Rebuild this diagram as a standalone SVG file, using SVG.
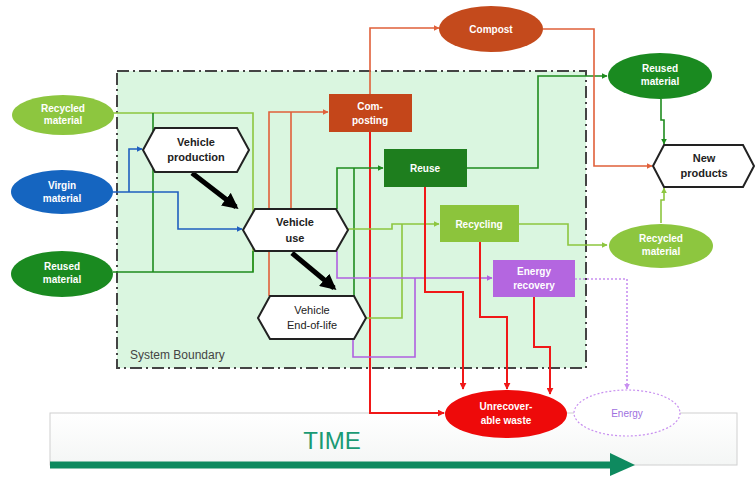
<svg xmlns="http://www.w3.org/2000/svg" width="755" height="477" viewBox="0 0 755 477">
<style>
text{font-family:"Liberation Sans",Arial,sans-serif;text-anchor:middle}
.w{fill:#ffffff;font-size:10px;font-weight:bold}
.k{fill:#222;font-size:11px;font-weight:bold}
.hex{fill:#fff;stroke:#222;stroke-width:2}
.c{fill:none;stroke-width:1.6}
.blue{stroke:#1f5fbf}
.dg{stroke:#1e8c1e}
.lg{stroke:#8dc63f}
.or{stroke:#e0603a}
.rd{stroke:#f01818;stroke-width:2}
.pu{stroke:#b060e0}
.pd{stroke:#c890f0;stroke-dasharray:2 2}
</style>
<defs>
<marker id="aB" viewBox="0 0 10 10" refX="9" refY="5" markerWidth="6" markerHeight="6" orient="auto-start-reverse" markerUnits="userSpaceOnUse"><path d="M0,0L10,5L0,10z" fill="#1f5fbf"/></marker>
<marker id="aDG" viewBox="0 0 10 10" refX="9" refY="5" markerWidth="6" markerHeight="6" orient="auto" markerUnits="userSpaceOnUse"><path d="M0,0L10,5L0,10z" fill="#1e8c1e"/></marker>
<marker id="aLG" viewBox="0 0 10 10" refX="9" refY="5" markerWidth="6" markerHeight="6" orient="auto" markerUnits="userSpaceOnUse"><path d="M0,0L10,5L0,10z" fill="#8dc63f"/></marker>
<marker id="aOR" viewBox="0 0 10 10" refX="9" refY="5" markerWidth="6" markerHeight="6" orient="auto" markerUnits="userSpaceOnUse"><path d="M0,0L10,5L0,10z" fill="#e0603a"/></marker>
<marker id="aRD" viewBox="0 0 10 10" refX="9" refY="5" markerWidth="7" markerHeight="7" orient="auto" markerUnits="userSpaceOnUse"><path d="M0,0L10,5L0,10z" fill="#f01818"/></marker>
<marker id="aPU" viewBox="0 0 10 10" refX="9" refY="5" markerWidth="6" markerHeight="6" orient="auto" markerUnits="userSpaceOnUse"><path d="M0,0L10,5L0,10z" fill="#b060e0"/></marker>
<marker id="aPD" viewBox="0 0 10 10" refX="9" refY="5" markerWidth="6" markerHeight="6" orient="auto" markerUnits="userSpaceOnUse"><path d="M0,0L10,5L0,10z" fill="#c890f0"/></marker>
<marker id="aK" viewBox="0 0 10 10" refX="8" refY="5" markerWidth="16" markerHeight="16" orient="auto" markerUnits="userSpaceOnUse"><path d="M0,0L10,5L0,10z" fill="#000"/></marker>
<linearGradient id="tg" x1="0" y1="0" x2="0" y2="1"><stop offset="0" stop-color="#ffffff"/><stop offset="1" stop-color="#f4f6f5"/></linearGradient>
</defs>

<!-- Time band -->
<g id="time">
<rect x="50" y="413" width="687" height="52" fill="url(#tg)" stroke="#d0d0d0" stroke-width="1"/>
<text x="332" y="449" style="font-size:24px;fill:#1a9a74">TIME</text>
<path d="M50,465H612" stroke="#0e8a5f" stroke-width="7" fill="none"/>
<path d="M610,453L635,465L610,476z" fill="#0e8a5f"/>
</g>

<!-- System boundary -->
<g id="boundary">
<rect x="117" y="71" width="469" height="297" fill="#daf6e0" stroke="#444" stroke-width="2" stroke-dasharray="12 4 2 4"/>
<text x="130" y="359" style="font-size:12px;fill:#444;text-anchor:start">System Boundary</text>
</g>

<!-- Connectors -->
<g id="connectors">
<path class="c lg" d="M113,113H253V272"/>
<path class="c dg" d="M153,113V272"/>
<path class="c dg" d="M113,272H253V251"/>
<path class="c blue" d="M113,192H178V229H242" marker-end="url(#aB)"/>
<path class="c blue" d="M129,192V149H142" marker-end="url(#aB)"/>
<path class="c or" d="M269,296V112H328" marker-end="url(#aOR)"/>
<path class="c or" d="M291,209V112"/>
<path class="c or" d="M370,94V28H439" marker-end="url(#aOR)"/>
<path class="c rd" d="M370,132V413H444" marker-end="url(#aRD)"/>
<path class="c dg" d="M337,209V168H383" marker-end="url(#aDG)"/>
<path class="c dg" d="M354,296V168"/>
<path class="c lg" d="M348,229H392V224H439" marker-end="url(#aLG)"/>
<path class="c lg" d="M366,318H402V224"/>
<path class="c pu" d="M337,251V278H492" marker-end="url(#aPU)"/>
<path class="c pu" d="M353,339V357H415V278"/>
<path class="c dg" d="M467,168H538V76H607" marker-end="url(#aDG)"/>
<path class="c lg" d="M519,224H568V245H607" marker-end="url(#aLG)"/>
<path class="c rd" d="M425,187V292H463V389" marker-end="url(#aRD)"/>
<path class="c rd" d="M480,242V317H507V389" marker-end="url(#aRD)"/>
<path class="c rd" d="M534,297V347H550V394" marker-end="url(#aRD)"/>
<path class="c pd" d="M575,279H627V389" marker-end="url(#aPD)"/>
<path class="c or" d="M543,29H594V166H652" marker-end="url(#aOR)"/>
<path class="c dg" d="M661,99V120H664V144" marker-end="url(#aDG)"/>
<path class="c lg" d="M661,223V200H664V188" marker-end="url(#aLG)"/>
<path d="M192,173L236,207" stroke="#000" stroke-width="5" fill="none" marker-end="url(#aK)"/>
<path d="M292,253L334,288" stroke="#000" stroke-width="5" fill="none" marker-end="url(#aK)"/>
</g>

<!-- Nodes -->
<g id="recycled-in"><ellipse cx="63" cy="115" rx="51" ry="20" fill="#8dc63f"/><text class="w" x="63" y="112">Recycled</text><text class="w" x="63" y="124">material</text></g>
<g id="virgin"><ellipse cx="62" cy="192" rx="51" ry="22" fill="#1565c0"/><text class="w" x="62" y="189">Virgin</text><text class="w" x="62" y="202">material</text></g>
<g id="reused-in"><ellipse cx="62" cy="274" rx="51" ry="23" fill="#1a8a20"/><text class="w" x="62" y="270">Reused</text><text class="w" x="62" y="283">material</text></g>

<g id="production"><polygon class="hex" points="143,150 155,128 237,128 249,150 237,172 155,172"/><text class="k" x="196" y="146">Vehicle</text><text class="k" x="196" y="161">production</text></g>
<g id="use"><polygon class="hex" points="243,230 255,209 336,209 348,230 336,251 255,251"/><text class="k" x="295" y="226">Vehicle</text><text class="k" x="295" y="242">use</text></g>
<g id="eol"><polygon class="hex" points="258,318 270,296 354,296 366,318 354,339 270,339"/><text class="k" x="312" y="314" style="font-weight:normal">Vehicle</text><text class="k" x="312" y="329" style="font-weight:normal">End-of-life</text></g>

<g id="composting"><rect x="329" y="94" width="83" height="38" fill="#c4461a"/><text class="w" x="370" y="110">Com-</text><text class="w" x="370" y="124">posting</text></g>
<g id="reuse"><rect x="384" y="149" width="83" height="38" fill="#1e7e1e"/><text class="w" x="425" y="172">Reuse</text></g>
<g id="recycling"><rect x="440" y="205" width="79" height="37" fill="#8cc43c"/><text class="w" x="479" y="228">Recycling</text></g>
<g id="energy-recovery"><rect x="493" y="260" width="82" height="37" fill="#b466e0"/><text class="w" x="534" y="275">Energy</text><text class="w" x="534" y="289">recovery</text></g>

<g id="compost"><ellipse cx="491" cy="29" rx="52" ry="23" fill="#c44a1c"/><text class="w" x="491" y="33">Compost</text></g>
<g id="reused-out"><ellipse cx="660" cy="76" rx="52" ry="23" fill="#1a8a20"/><text class="w" x="660" y="72">Reused</text><text class="w" x="660" y="85">material</text></g>
<g id="new-products"><polygon class="hex" points="653,166 664,145 743,145 754,166 743,187 664,187"/><text class="k" x="704" y="162">New</text><text class="k" x="704" y="177">products</text></g>
<g id="recycled-out"><ellipse cx="661" cy="246" rx="52" ry="22" fill="#8dc63f"/><text class="w" x="661" y="242">Recycled</text><text class="w" x="661" y="255">material</text></g>
<g id="waste"><ellipse cx="506" cy="414" rx="61" ry="24" fill="#ee0a0a"/><text class="w" x="506" y="410">Unrecover-</text><text class="w" x="506" y="424">able waste</text></g>
<g id="energy"><ellipse cx="627" cy="413" rx="53" ry="23" fill="#fff" stroke="#c890f0" stroke-width="1.2" stroke-dasharray="2 2"/><text x="627" y="417" style="font-size:10px;fill:#a070e0">Energy</text></g>
</svg>
